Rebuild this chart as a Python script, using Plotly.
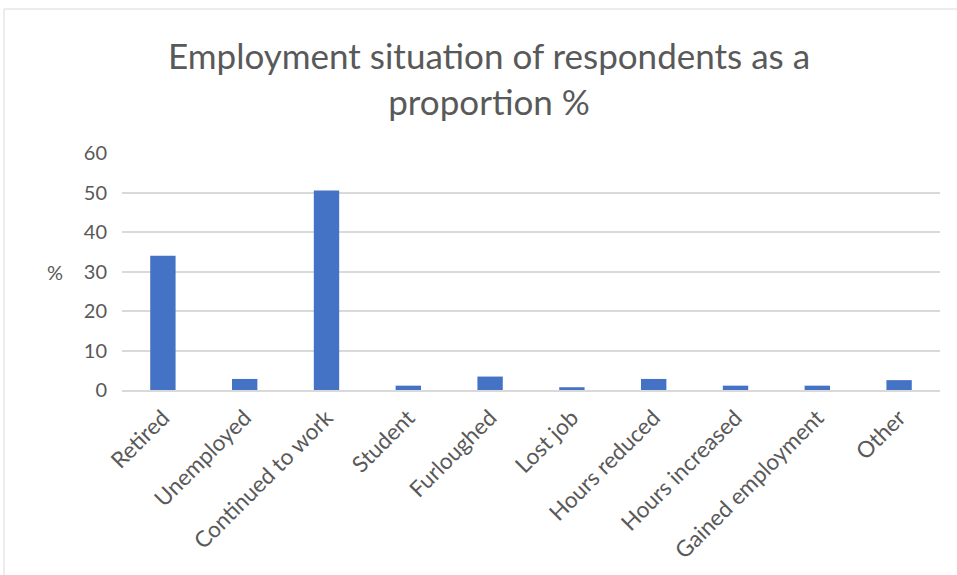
import plotly.graph_objects as go

categories = ["Retired", "Unemployed", "Continued to work", "Student", "Furloughed",
              "Lost job", "Hours reduced", "Hours increased", "Gained employment", "Other"]
values = [34.0, 2.8, 50.5, 1.1, 3.4, 0.7, 2.8, 1.1, 1.1, 2.5]
y_ticks = [0, 10, 20, 30, 40, 50, 60]

W, H = 957, 575
ml, mr, mt, mb = 122, 17, 153, 185
pw, ph = W - ml - mr, H - mt - mb

fig = go.Figure(go.Bar(x=categories, y=values, marker=dict(color="#4472C4", line=dict(width=0))))

FONT = "Lato"
GRAY = "#595959"

fig.update_layout(
    width=W, height=H,
    margin=dict(l=ml, r=mr, t=mt, b=mb),
    paper_bgcolor="white", plot_bgcolor="white",
    bargap=0.69,
    showlegend=False,
    font=dict(family=FONT, color=GRAY),
)
fig.update_yaxes(range=[0, 60], tickvals=y_ticks, showgrid=True, gridcolor="#D9D9D9", gridwidth=1.5,
                 zeroline=False, showline=False, ticks="", tickfont=dict(size=20, color=GRAY),
                 ticklabelstandoff=14)
fig.update_xaxes(tickangle=-45, tickfont=dict(size=22.5, color=GRAY), showline=True,
                 linecolor="#D9D9D9", linewidth=1.5, ticks="", showgrid=False,
                 ticklabelstandoff=4)

# title
fig.add_annotation(text="Employment situation of respondents as a<br>proportion %",
                   xref="paper", yref="paper",
                   x=(489 - ml) / pw, y=(H - 78 - mb) / ph, xanchor="center", yanchor="middle",
                   showarrow=False, align="center",
                   font=dict(family=FONT, size=35, color=GRAY))

fig.add_annotation(text="%", xref="paper", yref="paper",
                   x=(55 - ml) / pw, y=(H - 272 - mb) / ph, xanchor="center", yanchor="middle",
                   showarrow=False, font=dict(family=FONT, size=20, color=GRAY))

# chart-area border
fig.add_shape(type="rect", xref="paper", yref="paper",
              x0=(4 - ml) / pw, x1=(W + 5 - ml) / pw,
              y0=(mb - H - 5) / ph, y1=(H - 9 - mb) / ph,
              line=dict(color="#D9D9D9", width=1), fillcolor="rgba(0,0,0,0)", layer="below")

fig.write_html("out.html")
